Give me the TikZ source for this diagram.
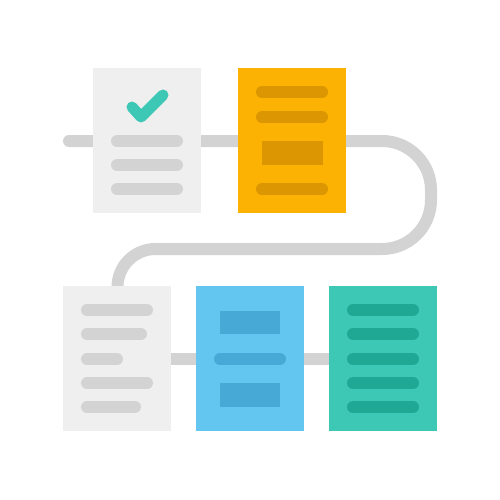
\documentclass[tikz,border=0pt]{standalone}
\definecolor{paper}{HTML}{EFEFEF}
\definecolor{trackgray}{HTML}{D3D3D3}
\definecolor{amber}{HTML}{FBB203}
\definecolor{amberdark}{HTML}{DC9602}
\definecolor{sky}{HTML}{63C6F1}
\definecolor{skydark}{HTML}{47A9D6}
\definecolor{teal}{HTML}{3CC8B4}
\definecolor{tealdark}{HTML}{1FA994}
\begin{document}
\begin{tikzpicture}[x=0.2mm,y=-0.2mm]
\tikzset{
  track/.style={draw=trackgray, line width=2.4mm, line cap=round},
  bar/.style={line width=2.4mm, line cap=round},
}
\useasboundingbox[fill=white] (0,0) rectangle (500,500);

% track behind the sheets
\draw[track, rounded corners=9.8mm] (69,141) -- (431,141) -- (431,249)
  [rounded corners=7.6mm] -- (117.5,249) -- (117.5,300);
\draw[track] (140,359) -- (360,359);

% sheets
\fill[paper] (93,68) rectangle (201,213);
\fill[amber] (238,68) rectangle (346,213);
\fill[paper] (63,286) rectangle (171,431);
\fill[sky] (196,286) rectangle (304,431);
\fill[teal] (329,286) rectangle (437,431);

% first sheet: tick and lines
\draw[teal, line width=2.2mm, line cap=round, line join=round] (132,107) -- (141,117) -- (163,95);
\foreach \y in {141,165,189}{
    \draw[bar, trackgray] (117,\y) -- (177,\y);
}

% second sheet
\foreach \y in {92,117,189}{
    \draw[bar, amberdark] (262,\y) -- (322,\y);
}
\fill[amberdark] (262,141) rectangle (323,165);

% third sheet: lines of different length
\foreach \y/\e in {310/147,334/141,359/117,383/147,407/135}{
    \draw[bar, trackgray] (87,\y) -- (\e,\y);
}

% fourth sheet
\fill[skydark] (220,311) rectangle (280,334);
\draw[bar, skydark] (220,359) -- (280,359);
\fill[skydark] (220,383) rectangle (280,407);

% fifth sheet
\foreach \y in {310,334,359,383,407}{
    \draw[bar, tealdark] (353,\y) -- (413,\y);
}

\end{tikzpicture}
\end{document}
